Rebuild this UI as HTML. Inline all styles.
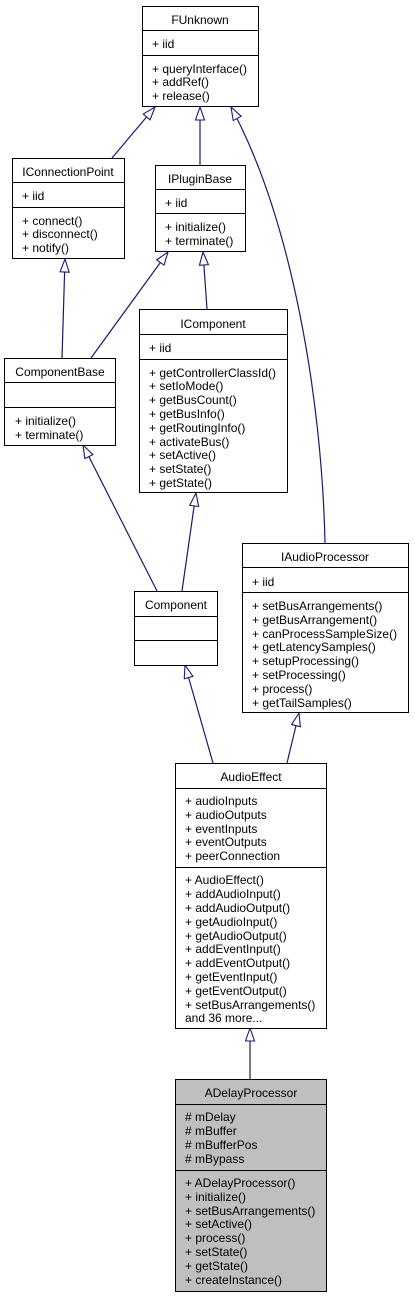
<!DOCTYPE html>
<html><head><meta charset="utf-8"><style>
html,body{margin:0;padding:0;background:#fff;}
svg{display:block;}
text{font-family:"Liberation Sans",Arial,sans-serif;font-size:12px;fill:#000;}
.b{fill:#fff;stroke:#000;stroke-width:1;}
.g{fill:#bfbfbf;stroke:#000;stroke-width:1;}
.e{fill:none;stroke:#191970;stroke-width:1.2;}
</style></head><body>
<svg width="415" height="1299" viewBox="0 0 415 1299" xmlns="http://www.w3.org/2000/svg">
<defs>
<marker id="a" markerUnits="userSpaceOnUse" markerWidth="16" markerHeight="12" refX="14" refY="5" orient="auto">
<polygon points="1,0.5 14,5 1,9.5" fill="#fff" stroke="#191970" stroke-width="1.1"/>
</marker>
</defs>

<path class="e" d="M112,158 L155,107" marker-end="url(#a)"/>
<path class="e" d="M200,165 L200,107" marker-end="url(#a)"/>
<path class="e" d="M325,543 C322,400 292,220 231,107" marker-end="url(#a)"/>
<path class="e" d="M62,358 L65,259" marker-end="url(#a)"/>
<path class="e" d="M91,358 L168,252" marker-end="url(#a)"/>
<path class="e" d="M207,309 L203,252" marker-end="url(#a)"/>
<path class="e" d="M157,591 L83,445" marker-end="url(#a)"/>
<path class="e" d="M182,591 L196,493" marker-end="url(#a)"/>
<path class="e" d="M213,763 L185,665" marker-end="url(#a)"/>
<path class="e" d="M287,763 L299,713" marker-end="url(#a)"/>
<path class="e" d="M250,1079 L250,1028" marker-end="url(#a)"/>

<rect class="b" x="142.5" y="6.5" width="116" height="100"/>
<line x1="142.5" y1="30.5" x2="258.5" y2="30.5" stroke="#000"/>
<line x1="142.5" y1="55.5" x2="258.5" y2="55.5" stroke="#000"/>
<text x="200" y="24" text-anchor="middle">FUnknown</text>
<text x="152" y="48">+ iid</text>
<text x="152" y="73">+ queryInterface()</text>
<text x="152" y="86">+ addRef()</text>
<text x="152" y="100">+ release()</text>

<rect class="b" x="12.5" y="158.5" width="112" height="100"/>
<line x1="12.5" y1="182.5" x2="124.5" y2="182.5" stroke="#000"/>
<line x1="12.5" y1="207.5" x2="124.5" y2="207.5" stroke="#000"/>
<text x="68" y="176" text-anchor="middle">IConnectionPoint</text>
<text x="22" y="200">+ iid</text>
<text x="22" y="225">+ connect()</text>
<text x="22" y="238">+ disconnect()</text>
<text x="22" y="252">+ notify()</text>

<rect class="b" x="155.5" y="165.5" width="90" height="86"/>
<line x1="155.5" y1="189.5" x2="245.5" y2="189.5" stroke="#000"/>
<line x1="155.5" y1="213.5" x2="245.5" y2="213.5" stroke="#000"/>
<text x="200" y="183" text-anchor="middle">IPluginBase</text>
<text x="165" y="207">+ iid</text>
<text x="165" y="231">+ initialize()</text>
<text x="165" y="245">+ terminate()</text>

<rect class="b" x="139.5" y="309.5" width="148" height="183"/>
<line x1="139.5" y1="334.5" x2="287.5" y2="334.5" stroke="#000"/>
<line x1="139.5" y1="359.5" x2="287.5" y2="359.5" stroke="#000"/>
<text x="213" y="328" text-anchor="middle">IComponent</text>
<text x="149" y="352">+ iid</text>
<text x="149" y="377">+ getControllerClassId()</text>
<text x="149" y="390">+ setIoMode()</text>
<text x="149" y="404">+ getBusCount()</text>
<text x="149" y="418">+ getBusInfo()</text>
<text x="149" y="432">+ getRoutingInfo()</text>
<text x="149" y="446">+ activateBus()</text>
<text x="149" y="459">+ setActive()</text>
<text x="149" y="473">+ setState()</text>
<text x="149" y="487">+ getState()</text>

<rect class="b" x="4.5" y="358.5" width="111" height="87"/>
<line x1="4.5" y1="382.5" x2="115.5" y2="382.5" stroke="#000"/>
<line x1="4.5" y1="407.5" x2="115.5" y2="407.5" stroke="#000"/>
<text x="60" y="376" text-anchor="middle">ComponentBase</text>
<text x="15" y="425">+ initialize()</text>
<text x="15" y="439">+ terminate()</text>

<rect class="b" x="134.5" y="591.5" width="83" height="74"/>
<line x1="134.5" y1="616.5" x2="217.5" y2="616.5" stroke="#000"/>
<line x1="134.5" y1="640.5" x2="217.5" y2="640.5" stroke="#000"/>
<text x="176" y="609" text-anchor="middle">Component</text>

<rect class="b" x="242.5" y="543.5" width="166" height="169"/>
<line x1="242.5" y1="567.5" x2="408.5" y2="567.5" stroke="#000"/>
<line x1="242.5" y1="592.5" x2="408.5" y2="592.5" stroke="#000"/>
<text x="325" y="561" text-anchor="middle">IAudioProcessor</text>
<text x="252" y="586">+ iid</text>
<text x="252" y="610">+ setBusArrangements()</text>
<text x="252" y="624">+ getBusArrangement()</text>
<text x="252" y="638">+ canProcessSampleSize()</text>
<text x="252" y="651">+ getLatencySamples()</text>
<text x="252" y="665">+ setupProcessing()</text>
<text x="252" y="679">+ setProcessing()</text>
<text x="252" y="693">+ process()</text>
<text x="252" y="707">+ getTailSamples()</text>

<rect class="b" x="175.5" y="763.5" width="151" height="265"/>
<line x1="175.5" y1="788.5" x2="326.5" y2="788.5" stroke="#000"/>
<line x1="175.5" y1="867.5" x2="326.5" y2="867.5" stroke="#000"/>
<text x="251" y="781" text-anchor="middle">AudioEffect</text>
<text x="185" y="805">+ audioInputs</text>
<text x="185" y="819">+ audioOutputs</text>
<text x="185" y="833">+ eventInputs</text>
<text x="185" y="846">+ eventOutputs</text>
<text x="185" y="860">+ peerConnection</text>
<text x="185" y="884">+ AudioEffect()</text>
<text x="185" y="898">+ addAudioInput()</text>
<text x="185" y="912">+ addAudioOutput()</text>
<text x="185" y="926">+ getAudioInput()</text>
<text x="185" y="940">+ getAudioOutput()</text>
<text x="185" y="953">+ addEventInput()</text>
<text x="185" y="967">+ addEventOutput()</text>
<text x="185" y="981">+ getEventInput()</text>
<text x="185" y="995">+ getEventOutput()</text>
<text x="185" y="1009">+ setBusArrangements()</text>
<text x="185" y="1022">and 36 more...</text>

<rect class="g" x="175.5" y="1079.5" width="151" height="212"/>
<line x1="175.5" y1="1104.5" x2="326.5" y2="1104.5" stroke="#000"/>
<line x1="175.5" y1="1170.5" x2="326.5" y2="1170.5" stroke="#000"/>
<text x="251" y="1097" text-anchor="middle">ADelayProcessor</text>
<text x="185" y="1121"># mDelay</text>
<text x="185" y="1135"># mBuffer</text>
<text x="185" y="1149"># mBufferPos</text>
<text x="185" y="1163"># mBypass</text>
<text x="185" y="1187">+ ADelayProcessor()</text>
<text x="185" y="1201">+ initialize()</text>
<text x="185" y="1215">+ setBusArrangements()</text>
<text x="185" y="1228">+ setActive()</text>
<text x="185" y="1242">+ process()</text>
<text x="185" y="1256">+ setState()</text>
<text x="185" y="1270">+ getState()</text>
<text x="185" y="1284">+ createInstance()</text>
</svg>
</body></html>
